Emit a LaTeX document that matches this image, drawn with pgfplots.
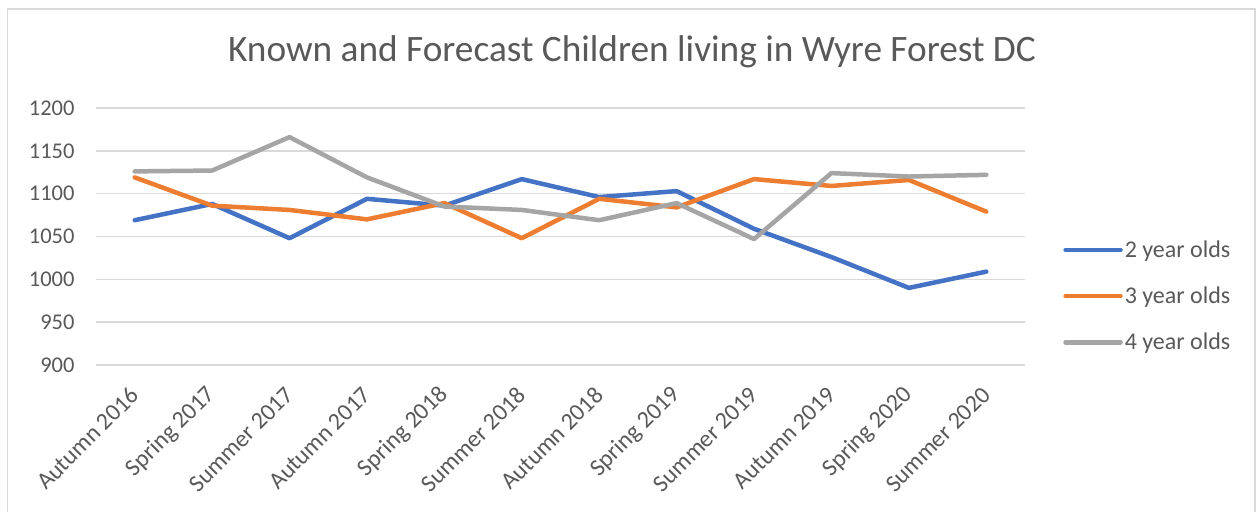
\documentclass[border=0pt]{standalone}
\usepackage{pgfplots}
\pgfplotsset{compat=1.18}
\usepackage{fontspec}
\setmainfont{Carlito}
\definecolor{cblue}{HTML}{4472C4}
\definecolor{corange}{HTML}{ED7D31}
\definecolor{cgray}{HTML}{A5A5A5}
\definecolor{cgrid}{HTML}{D9D9D9}
\definecolor{ctext}{HTML}{595959}
\begin{document}
\begin{tikzpicture}[x=1pt,y=1pt]
\useasboundingbox (0,0) rectangle (1257,512);
\fill[white] (0,0) rectangle (1257,512);
\draw[cgrid, line width=1.5pt] (7.5,0) -- (7.5,503) -- (1255,503) -- (1255,0);
\node[text=ctext, font=\fontsize{37.3}{44}\selectfont] at (632,460) {Known and Forecast Children living in Wyre Forest DC};
\begin{axis}[
  at={(96pt,147pt)}, anchor=south west,
  scale only axis, width=929pt, height=257pt,
  xmin=-0.5, xmax=11.5, ymin=900, ymax=1200,
  ytick={900,950,...,1200},
  xtick={0,...,11},
  xticklabels={Autumn 2016,Spring 2017,Summer 2017,Autumn 2017,Spring 2018,Summer 2018,Autumn 2018,Spring 2019,Summer 2019,Autumn 2019,Spring 2020,Summer 2020},
  axis line style={draw=none},
  tick style={draw=none},
  ymajorgrids, grid style={cgrid, line width=1.5pt},
  /pgf/number format/assume math mode=true,
  /pgf/number format/1000 sep={},
  yticklabel style={text=ctext, font=\fontsize{22.5}{26}\selectfont, xshift=-18pt},
  xticklabel shift=26pt,
  xticklabel style={text=ctext, font=\fontsize{24}{28}\selectfont, rotate=45, anchor=east, inner sep=0pt},
  legend style={at={(axis description cs:1.041,0.268)}, anchor=west, draw=none, fill=none,
    font=\fontsize{24}{28}\selectfont, text=ctext, row sep=24pt, inner sep=0pt},
  legend cell align=left,
  legend image code/.code={\draw[#1, line cap=round] (0pt,0pt) -- (55pt,0pt);},
  every axis plot/.append style={line width=4.5pt, line join=round, line cap=round, mark=none},
]
\addplot[cblue] coordinates {(0,1069)(1,1088)(2,1048)(3,1094)(4,1086)(5,1117)(6,1096)(7,1103)(8,1059)(9,1026)(10,990)(11,1009)};
\addlegendentry{2 year olds}
\addplot[corange] coordinates {(0,1119)(1,1086)(2,1081)(3,1070)(4,1089)(5,1048)(6,1094)(7,1084)(8,1117)(9,1109)(10,1116)(11,1079)};
\addlegendentry{3 year olds}
\addplot[cgray] coordinates {(0,1126)(1,1127)(2,1166)(3,1119)(4,1085)(5,1081)(6,1069)(7,1089)(8,1047)(9,1124)(10,1120)(11,1122)};
\addlegendentry{4 year olds}
\end{axis}
\end{tikzpicture}
\end{document}
